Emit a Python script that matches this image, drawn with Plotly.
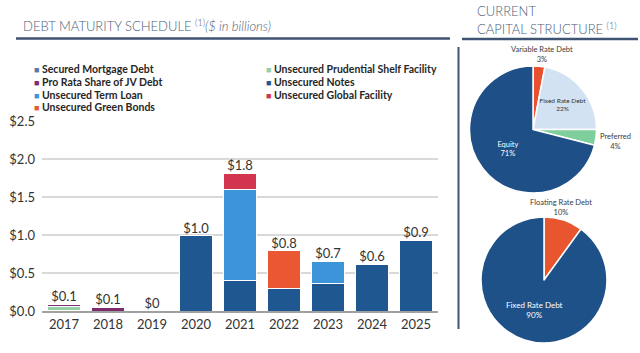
import plotly.graph_objects as go

years = ["2017", "2018", "2019", "2020", "2021", "2022", "2023", "2024", "2025"]
series_names = ["Secured Mortgage Debt", "Unsecured Prudential Shelf Facility", "Pro Rata Share of JV Debt",
                "Unsecured Notes", "Unsecured Term Loan", "Unsecured Green Bonds", "Unsecured Global Facility"]
secured = [0.005, 0.0, 0, 0, 0, 0, 0, 0, 0]
prudential = [0.05, 0.0, 0, 0, 0, 0, 0, 0, 0]
jv_debt = [0.03, 0.045, 0, 0, 0, 0, 0, 0, 0]
notes = [0, 0, 0, 0.99, 0.40, 0.29, 0.36, 0.61, 0.93]
term_loan = [0, 0, 0, 0, 1.20, 0, 0.29, 0, 0]
green_bonds = [0, 0, 0, 0, 0, 0.50, 0, 0, 0]
global_fac = [0, 0, 0, 0, 0.21, 0, 0, 0, 0]
total_labels = ["$0.1", "$0.1", "$0", "$1.0", "$1.8", "$0.8", "$0.7", "$0.6", "$0.9"]
series_colors = ["#5b7aa3", "#93cfa9", "#7d2a6f", "#1f5791", "#3c95d8", "#ea5733", "#d2364f"]

cap_labels = ["Variable Rate Debt", "Fixed Rate Debt", "Preferred", "Equity"]
cap_values = [3, 22, 4, 71]
rate_labels = ["Floating Rate Debt", "Fixed Rate Debt"]
rate_values = [10, 90]

series_values = [secured, prudential, jv_debt, notes, term_loan, green_bonds, global_fac]
totals = [sum(v) for v in zip(*series_values)]

W, H = 640, 353
def px(x): return x / W
def py(y): return 1 - y / H

FONT = "Lato"
fig = go.Figure()
for name, vals, col in zip(series_names, series_values, series_colors):
    fig.add_trace(go.Bar(x=years, y=vals, name=name, marker=dict(color=col, line=dict(color="white", width=1)),
                         showlegend=False, xaxis="x", yaxis="y"))
fig.add_trace(go.Scatter(x=years, y=totals, mode="text", text=total_labels, textposition="top center",
                         textfont=dict(family=FONT, size=13, color="#333333"), showlegend=False, hoverinfo="skip"))

fig.add_trace(go.Pie(labels=cap_labels, values=cap_values, sort=False, direction="clockwise", rotation=0,
                     domain=dict(x=[px(469.5), px(596.5)], y=[py(193), py(66)]),
                     marker=dict(colors=["#e9502f", "#d3e2f2", "#7fcf9c", "#1e4f86"], line=dict(color="white", width=1.5)),
                     texttemplate="%{label}<br>%{percent:.0%}",
                     textposition=["none", "inside", "none", "inside"],
                     insidetextorientation="horizontal",
                     textfont=dict(family=FONT, size=[7, 6.5, 7, 7.5], color=["#444444", "#333333", "#444444", "white"]),
                     showlegend=False, automargin=False))
fig.add_trace(go.Pie(labels=rate_labels, values=rate_values, sort=False, direction="clockwise", rotation=0,
                     domain=dict(x=[px(481), px(607)], y=[py(343), py(217)]),
                     marker=dict(colors=["#e9552f", "#1e5188"], line=dict(color="white", width=1.5)),
                     texttemplate="%{label}<br>%{percent:.0%}",
                     textposition=["none", "inside"], insidetextorientation="horizontal",
                     textfont=dict(family=FONT, size=8, color=["#444444", "white"]),
                     showlegend=False, automargin=False))

annotations = []
# legend (two columns)
left_rows = [69, 82, 95, 107]
right_rows = [69, 82, 95]
left_items = [0, 2, 4, 5]
right_items = [1, 3, 6]
for items, rows, x0 in ((left_items, left_rows, 32), (right_items, right_rows, 264)):
    for idx, yy in zip(items, rows):
        annotations.append(dict(x=px(x0), y=py(yy), xref="paper", yref="paper", xanchor="left", yanchor="middle",
                                showarrow=False,
                                text=f"<span style='color:{series_colors[idx]};font-size:9px'>■</span> {series_names[idx]}",
                                font=dict(family=FONT, size=10.5, color="#262626", weight="bold")))

# outside pie labels
pie_outside = [
    (cap_labels[0], cap_values[0], 542, 54.5),
    (cap_labels[2], cap_values[2], 615, 141.5),
    (rate_labels[0], rate_values[0], 561, 207.5),
]
for lab, val, xx, yy in pie_outside:
    annotations.append(dict(x=px(xx), y=py(yy), xref="paper", yref="paper", xanchor="center", yanchor="middle",
                            showarrow=False, text=f"{lab}<br>{val}%",
                            font=dict(family=FONT, size=7.5, color="#3a3a3a")))

# titles
annotations.append(dict(x=px(21), y=py(25.5), xref="paper", yref="paper", xanchor="left", yanchor="middle",
                        showarrow=False, text="DEBT MATURITY SCHEDULE <sup>(1)</sup><i>($ in billions)</i>",
                        font=dict(family=FONT, size=13, color="#4c5e79", weight=300)))
annotations.append(dict(x=px(475), y=py(11.5), xref="paper", yref="paper", xanchor="left", yanchor="middle",
                        showarrow=False, text="CURRENT",
                        font=dict(family=FONT, size=13, color="#4c5e79", weight=300)))
annotations.append(dict(x=px(475), y=py(28.5), xref="paper", yref="paper", xanchor="left", yanchor="middle",
                        showarrow=False, text="CAPITAL STRUCTURE <sup>(1)</sup>",
                        font=dict(family=FONT, size=13, color="#4c5e79", weight=300)))

shapes = [
    dict(type="line", xref="paper", yref="paper", x0=px(16), x1=px(450), y0=py(38.5), y1=py(38.5),
         line=dict(color="#3f5373", width=2.5)),
    dict(type="line", xref="paper", yref="paper", x0=px(462), x1=px(638), y0=py(39), y1=py(39),
         line=dict(color="#3f5373", width=2.5)),
    dict(type="line", xref="paper", yref="paper", x0=px(458.5), x1=px(458.5), y0=py(47), y1=py(329),
         line=dict(color="#3f5373", width=2)),
]

fig.update_layout(
    width=W, height=H, margin=dict(l=0, r=0, t=0, b=0, autoexpand=False),
    paper_bgcolor="white", plot_bgcolor="white", showlegend=False,
    barmode="stack", bargap=0.27,
    font=dict(family=FONT, size=13, color="#333333"),
    xaxis=dict(domain=[px(42), px(438)], showline=True, linecolor="#a0a0a0", linewidth=2,
               showgrid=False, ticks="", tickfont=dict(family=FONT, size=13, color="#333333"),
               fixedrange=True, automargin=False),
    yaxis=dict(domain=[py(311), py(121)], range=[0, 2.5], dtick=0.5, tickprefix="$", tickformat=".1f",
               showgrid=True, gridcolor="#d9d9d9", gridwidth=2, zeroline=False, automargin=False,
               tickfont=dict(family=FONT, size=13, color="#333333"), ticklabelstandoff=6),
    annotations=annotations, shapes=shapes,
)
fig.write_html("out.html")
